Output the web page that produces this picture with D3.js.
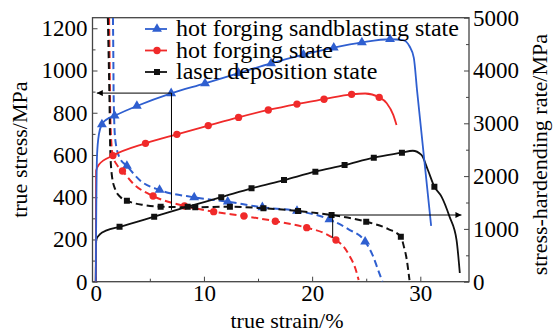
<!DOCTYPE html>
<html>
<head>
<meta charset="utf-8">
<script src="https://cdn.jsdelivr.net/npm/d3@7"></script>
<style>
  html, body { margin: 0; padding: 0; background: #fff; }
  svg { display: block; font-family: "Liberation Serif", "Times New Roman", serif; }
  svg text { font-family: "Liberation Serif", "Times New Roman", serif; }
</style>
</head>
<body>
<div id="chart"></div>
<script>
// tick values
const strainTicks = [0, 10, 20, 30];
const strainMinor = [5, 15, 25];
const stressTicks = [0, 200, 400, 600, 800, 1000, 1200];
const stressMinor = [100, 300, 500, 700, 900, 1100];
const rateTicks = [0, 1000, 2000, 3000, 4000, 5000];
const rateMinor = [500, 1500, 2500, 3500, 4500];

// true stress curves: [strain %, stress MPa, marker]
const sandblastStress = [
  [0, 0], [0.05, 350], [0.12, 600], [0.3, 700], [0.57, 745, 1], [1.0, 768], [1.74, 786, 1],
  [3.8, 832, 1], [6.97, 892, 1], [10.1, 939, 1], [13.2, 988, 1], [16.2, 1034, 1],
  [19.2, 1075, 1], [22.0, 1108, 1], [24.6, 1133, 1], [27.2, 1148, 1], [28.4, 1144],
  [29.0, 1115], [29.4, 1060], [29.7, 905], [31.0, 264]
];
const forgingStress = [
  [0, 0], [0.03, 525], [0.3, 555], [1.59, 597, 1], [4.6, 655, 1], [7.5, 698, 1],
  [10.4, 739, 1], [13.2, 778, 1], [15.95, 813, 1], [18.6, 841, 1], [21.1, 864, 1],
  [23.65, 887, 1], [24.9, 891], [26.2, 873, 1], [26.9, 845], [27.5, 790], [27.8, 742]
];
const laserStress = [
  [0, 0], [0.05, 200], [0.4, 225], [1.0, 243], [2.2, 260, 1], [5.4, 308, 1], [8.5, 355, 1],
  [11.6, 400, 1], [14.4, 442, 1], [17.4, 481, 1], [20.3, 521, 1], [23.0, 552, 1],
  [25.7, 587, 1], [28.3, 611, 1], [29.3, 620], [30.1, 600], [30.7, 529], [31.3, 450, 1],
  [31.97, 402], [32.7, 308], [33.35, 197], [33.65, 41]
];

// stress-hardening rate curves: [strain %, rate MPa, marker]
const sandblastRate = [
  [1.58, 5200], [1.62, 4400], [1.66, 3440], [1.8, 2700], [2.2, 2350], [2.88, 2191, 1],
  [4.2, 1900], [5.9, 1737, 1], [9.1, 1598, 1], [12.2, 1515, 1], [15.4, 1409, 1],
  [18.6, 1339, 1], [21.6, 1182, 1], [23.3, 1000], [24.9, 758, 1], [25.6, 500],
  [26.1, 222], [26.5, 0]
];
const forgingRate = [
  [1.22, 5200], [1.27, 4400], [1.32, 3440], [1.45, 2600], [1.59, 2386], [2.0, 2200],
  [2.47, 2097, 1], [3.5, 1850], [5.3, 1623, 1], [8.2, 1434, 1], [10.9, 1326, 1],
  [13.7, 1244, 1], [16.6, 1145, 1], [19.5, 1023, 1], [21.0, 930], [22.2, 790, 1],
  [23.0, 640], [23.5, 473], [24.0, 250], [24.3, 30]
];
const laserRate = [
  [1.1, 5200], [1.18, 4400], [1.27, 3440], [1.34, 2500], [1.5, 2000], [1.8, 1750],
  [2.3, 1600], [2.88, 1534, 1], [4.5, 1450], [6.0, 1420, 1], [9.2, 1410, 1],
  [12.4, 1420, 1], [15.5, 1390, 1], [18.7, 1339, 1], [21.8, 1263, 1], [25.0, 1136, 1],
  [27.0, 1000], [28.2, 852, 1], [28.5, 650], [28.7, 473], [29.0, 32]
];

const seriesNames = ["hot forging sandblasting state", "hot forging state", "laser deposition state"];

// annotation arrows
const leftArrow = {strain: 7.0, stress: 893, rateBottom: 1360, tipStrain: 0.1};
const rightArrow = {strain: 21.9, rate: 1263, rateBottom: 830, tipStrain: 33.8};

const W = 554, H = 333;
const margin = {top: 17.7, right: 85, bottom: 51.3, left: 92.5};
const width = W - margin.left - margin.right;
const height = H - margin.top - margin.bottom;

const svg = d3.select("#chart").append("svg")
  .attr("width", W)
  .attr("height", H);

const g = svg.append("g")
  .attr("transform", `translate(${margin.left},${margin.top})`);

// scales
const x = d3.scaleLinear().domain([-0.3, 34.5]).range([0, width]);
const yL = d3.scaleLinear().domain([0, 1250]).range([height, 0]);
const yR = d3.scaleLinear().domain([0, 5000]).range([height, 0]);

const blue = "#2f5fd0", red = "#f02a2a", black = "#111";
const fmt = d3.format("d");

svg.append("defs").append("clipPath").attr("id", "plot-clip")
  .append("rect").attr("width", width).attr("height", height);

svg.select("defs").append("marker")
  .attr("id", "arrow")
  .attr("viewBox", "0 0 10 10")
  .attr("refX", 10).attr("refY", 5)
  .attr("markerWidth", 9).attr("markerHeight", 6)
  .attr("markerUnits", "userSpaceOnUse")
  .attr("orient", "auto")
  .append("path").attr("d", "M0,0L10,5L0,10Z").attr("fill", "#000");

// axes (ticks inward)
const axisColor = "#444";
const axes = g.append("g").attr("class", "axes");

axes.append("g").attr("transform", `translate(0,${height})`)
  .call(d3.axisBottom(x).tickValues(strainTicks).tickFormat(fmt).tickSize(-5).tickSizeOuter(0).tickPadding(3));
axes.append("g").attr("transform", `translate(0,${height})`)
  .call(d3.axisBottom(x).tickValues(strainMinor).tickSize(-3).tickSizeOuter(0).tickFormat(""));

axes.append("g")
  .call(d3.axisLeft(yL).tickValues(stressTicks).tickFormat(fmt).tickSize(-5).tickSizeOuter(0).tickPadding(5));
axes.append("g")
  .call(d3.axisLeft(yL).tickValues(stressMinor).tickSize(-3).tickSizeOuter(0).tickFormat(""));

axes.append("g").attr("transform", `translate(${width},0)`)
  .call(d3.axisRight(yR).tickValues(rateTicks).tickFormat(fmt).tickSize(-5).tickSizeOuter(0).tickPadding(4));
axes.append("g").attr("transform", `translate(${width},0)`)
  .call(d3.axisRight(yR).tickValues(rateMinor).tickSize(-3).tickSizeOuter(0).tickFormat(""));

axes.selectAll("g").attr("font-family", null).attr("font-size", null);
axes.selectAll(".domain").remove();
axes.selectAll(".tick line").attr("stroke", axisColor).attr("stroke-width", 1);
axes.selectAll(".tick text")
  .style("font-size", "23px")
  .attr("fill", "#000");

// frame
g.append("rect")
  .attr("width", width)
  .attr("height", height)
  .attr("fill", "none")
  .attr("stroke", axisColor)
  .attr("stroke-width", 1.3);

// lines
const stressLine = d3.line().x(d => x(d[0])).y(d => yL(d[1])).curve(d3.curveMonotoneX);
const rateLine = d3.line().x(d => x(d[0])).y(d => yR(d[1])).curve(d3.curveMonotoneX);

const plot = g.append("g").attr("clip-path", "url(#plot-clip)");

const tri = d3.symbol().type(d3.symbolTriangle).size(42);
const circ = d3.symbol().type(d3.symbolCircle).size(42);
const sq = d3.symbol().type(d3.symbolSquare).size(36);

const curves = [
  {data: sandblastRate, line: rateLine, y: yR, color: blue, sym: tri, dashed: true},
  {data: forgingRate, line: rateLine, y: yR, color: red, sym: circ, dashed: true},
  {data: laserRate, line: rateLine, y: yR, color: black, sym: sq, dashed: true},
  {data: laserStress, line: stressLine, y: yL, color: black, sym: sq, dashed: false},
  {data: forgingStress, line: stressLine, y: yL, color: red, sym: circ, dashed: false},
  {data: sandblastStress, line: stressLine, y: yL, color: blue, sym: tri, dashed: false}
];

curves.forEach(c => {
  plot.append("path")
    .datum(c.data)
    .attr("fill", "none")
    .attr("stroke", c.color)
    .attr("stroke-width", c.dashed ? 2 : 1.8)
    .attr("stroke-dasharray", c.dashed ? "7,4" : null)
    .attr("d", c.line);
  plot.selectAll(null)
    .data(c.data.filter(d => d[2]))
    .enter().append("path")
    .attr("transform", d => `translate(${x(d[0])},${c.y(d[1])})`)
    .attr("d", c.sym())
    .attr("fill", c.color);
});

// annotations
const ann = g.append("g").attr("stroke", "#000").attr("stroke-width", 1);
ann.append("line")
  .attr("x1", x(leftArrow.strain)).attr("y1", yL(leftArrow.stress))
  .attr("x2", x(leftArrow.strain)).attr("y2", yR(leftArrow.rateBottom));
ann.append("line")
  .attr("x1", x(leftArrow.strain)).attr("y1", yL(leftArrow.stress))
  .attr("x2", x(leftArrow.tipStrain)).attr("y2", yL(leftArrow.stress))
  .attr("marker-end", "url(#arrow)");
ann.append("line")
  .attr("x1", x(rightArrow.strain)).attr("y1", yR(rightArrow.rate))
  .attr("x2", x(rightArrow.strain)).attr("y2", yR(rightArrow.rateBottom));
ann.append("line")
  .attr("x1", x(rightArrow.strain)).attr("y1", yR(rightArrow.rate))
  .attr("x2", x(rightArrow.tipStrain)).attr("y2", yR(rightArrow.rate))
  .attr("marker-end", "url(#arrow)");

// legend
const legendItems = [
  {name: seriesNames[0], color: blue, sym: tri},
  {name: seriesNames[1], color: red, sym: circ},
  {name: seriesNames[2], color: black, sym: sq}
];
const legend = svg.append("g").attr("transform", "translate(145,29)");
legendItems.forEach((d, i) => {
  const row = legend.append("g").attr("transform", `translate(0,${i * 21.5})`);
  row.append("line").attr("x1", 0).attr("x2", 22).attr("stroke", d.color).attr("stroke-width", 1.8);
  row.append("path").attr("transform", "translate(12,0)").attr("d", d.sym()).attr("fill", d.color);
  row.append("text")
    .attr("x", 31).attr("y", 7)
    .style("font-size", "24px")
    .text(d.name);
});

// axis titles
svg.append("text")
  .attr("transform", `translate(27,${margin.top + height / 2}) rotate(-90)`)
  .attr("text-anchor", "middle")
  .style("font-size", "22px")
  .text("true stress/MPa");

svg.append("text")
  .attr("transform", `translate(547,${margin.top + height / 2 + 5}) rotate(-90)`)
  .attr("text-anchor", "middle")
  .style("font-size", "22px")
  .text("stress-hardending rate/MPa");

svg.append("text")
  .attr("x", 287)
  .attr("y", 328)
  .attr("text-anchor", "middle")
  .style("font-size", "22px")
  .text("true strain/%");
</script>
</body>
</html>
